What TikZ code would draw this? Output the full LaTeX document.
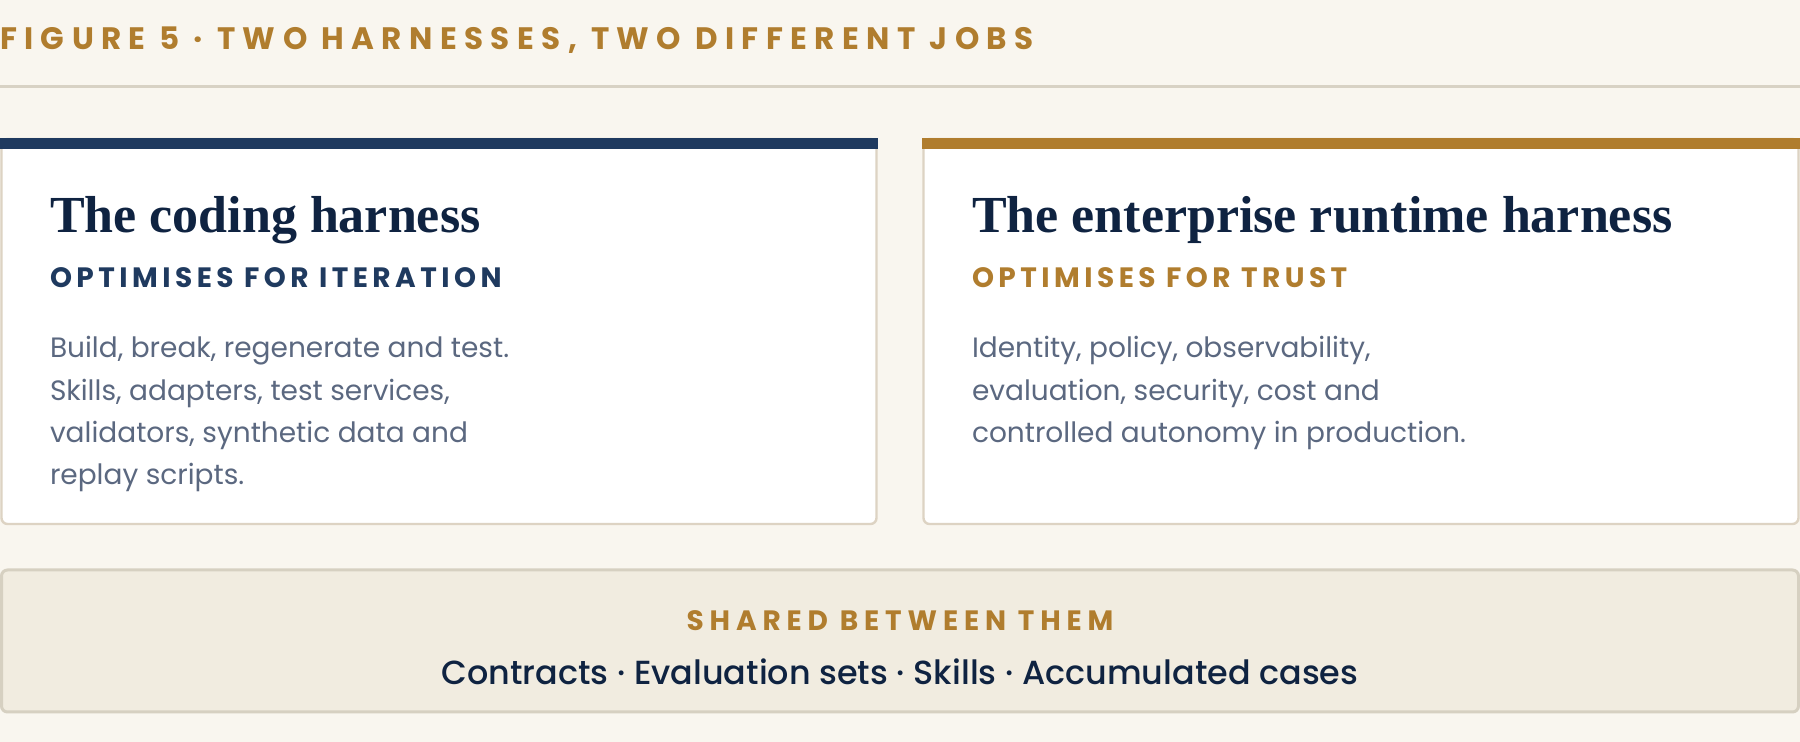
\documentclass[tikz,border=0pt]{standalone}
\usepackage{fontspec}
\setmainfont{Poppins}
\newfontfamily\headfont{Liberation Serif}
\newfontfamily\capsfont[LetterSpace=24]{Poppins}
\newfontfamily\subfont[LetterSpace=16]{Poppins}
\newfontfamily\sharedfont[LetterSpace=21]{Poppins}
\newfontfamily\medfont[BoldFont={Poppins Medium}]{Poppins}
\definecolor{bgcol}{HTML}{F9F6EF}
\definecolor{gold}{HTML}{B07D2E}
\definecolor{navybar}{HTML}{1F3A5F}
\definecolor{headnavy}{HTML}{0F2341}
\definecolor{bodygray}{HTML}{5B6880}
\definecolor{cardborder}{HTML}{DDD3C3}
\definecolor{rulecol}{HTML}{D8D2C4}
\definecolor{sharedfill}{HTML}{F1ECE0}
\definecolor{sharedborder}{HTML}{D6D0C1}
\tikzset{
  cardbox/.style={draw=cardborder, fill=white, line width=1.2pt, rounded corners=3pt},
  txt/.style={anchor=base west, inner sep=0pt, outer sep=0pt},
  ctxt/.style={anchor=base, inner sep=0pt, outer sep=0pt},
  titlestyle/.style={txt, text=gold, font=\capsfont\bfseries\fontsize{15.5}{18}\selectfont},
  headstyle/.style={txt, text=headnavy, font=\headfont\bfseries\fontsize{26}{30}\selectfont},
  substyle/.style={txt, font=\subfont\bfseries\fontsize{14}{16}\selectfont},
  bodystyle/.style={txt, text=bodygray, font=\fontsize{14}{21}\selectfont},
}
\begin{document}
\begin{tikzpicture}[x=0.5pt,y=-0.5pt]
\useasboundingbox (0,0) rectangle (1800,742);
\fill[bgcol] (0,0) rectangle (1800,742);

% title and rule
\node[titlestyle] (title) at (0,50) {FIGURE 5 · TWO HARNESSES, TWO DIFFERENT JOBS};
\coordinate (ruleL) at (0,87);
\coordinate (ruleR) at (1800,87);
\draw[rulecol, line width=1.5pt] (ruleL) -- (ruleR);

% left card
\draw[cardbox] (1.5,139) rectangle (876.5,524);
\fill[navybar] (0,138) rectangle (878,149);
\node[headstyle] (lhead) at (50,233) {The coding harness};
\node[substyle, text=navybar] (lsub) at (50,288) {OPTIMISES FOR ITERATION};
\node[bodystyle] (lb1) at (50,358) {Build, break, regenerate and test.};
\node[bodystyle] (lb2) at (50,401) {Skills, adapters, test services,};
\node[bodystyle] (lb3) at (50,443) {validators, synthetic data and};
\node[bodystyle] (lb4) at (50,485) {replay scripts.};

% right card
\draw[cardbox] (923.5,139) rectangle (1798.5,524);
\fill[gold] (922,138) rectangle (1800,149);
\node[headstyle] (rhead) at (972,233) {The enterprise runtime harness};
\node[substyle, text=gold] (rsub) at (972,288) {OPTIMISES FOR TRUST};
\node[bodystyle] (rb1) at (972,358) {Identity, policy, observability,};
\node[bodystyle] (rb2) at (972,401) {evaluation, security, cost and};
\node[bodystyle] (rb3) at (972,443) {controlled autonomy in production.};

% shared box
\draw[draw=sharedborder, fill=sharedfill, line width=1.5pt, rounded corners=3pt] (1.5,570) rectangle (1798.5,712);
\node[ctxt, text=gold, font=\sharedfont\bfseries\fontsize{14}{16}\selectfont] (slabel) at (900,631) {SHARED BETWEEN THEM};
\node[ctxt, text=headnavy, font=\medfont\bfseries\fontsize{16.7}{21}\selectfont] (sitems) at (900,685) {Contracts · Evaluation sets · Skills · Accumulated cases};
\end{tikzpicture}
\end{document}
